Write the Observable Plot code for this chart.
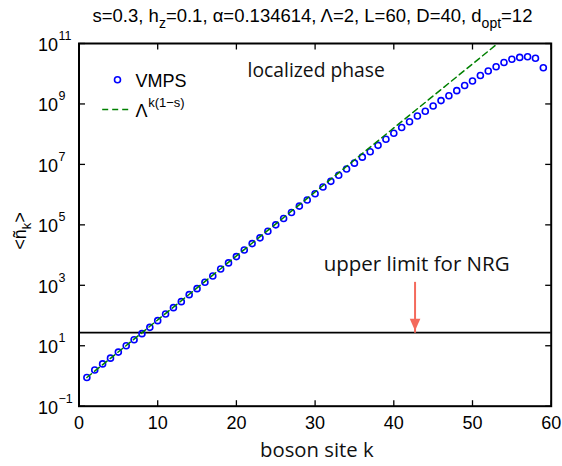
<!DOCTYPE html>
<html><head><meta charset="utf-8">
<script src="https://cdn.jsdelivr.net/npm/d3@7"></script>
<script src="https://cdn.jsdelivr.net/npm/@observablehq/plot@0.6"></script>
<style>body{margin:0;background:#fff} svg{display:block}</style>
</head><body><div id="chart"></div>
<script>
// boson site index k
const siteK = [1,2,3,4,5,6,7,8,9,10,11,12,13,14,15,16,17,18,19,20,21,22,23,24,25,26,27,28,29,30,
  31,32,33,34,35,36,37,38,39,40,41,42,43,44,45,46,47,48,49,50,51,52,53,54,55,56,57,58,59];
// VMPS <n_k> values
const vmpsN = [0.89,1.58,2.51,3.89,6.17,10.0,15.8,25.1,40.7,67.6,112,182,288,490,776,1260,2040,3470,5500,8910,
  14800,24000,37200,61700,1.0e5,1.62e5,2.57e5,4.17e5,6.61e5,1.07e6,1.78e6,2.75e6,4.37e6,7.08e6,1.10e7,1.74e7,
  2.63e7,4.27e7,6.76e7,1.07e8,1.66e8,2.57e8,3.98e8,5.75e8,8.51e8,1.29e9,1.86e9,2.75e9,4.07e9,5.75e9,8.71e9,
  1.23e10,1.70e10,2.34e10,3.02e10,3.47e10,3.63e10,3.24e10,1.58e10];
// dashed power law Lambda^{k(1-s)} endpoints (straight on log axis)
const fitK = [1, 53.2];
const fitN = [0.89, 1e11];
// NRG upper limit and its annotation
const nrgLimit = 27;
const arrowK = 42.7;
const arrowTop = 1300;
const noteK = 42.9;
const noteN = 3000;
// ticks
const xTicks = [0,10,20,30,40,50,60];
const yTickExp = [-1,1,3,5,7,9,11];

const vmps = siteK.map((k,i)=>({k, n: vmpsN[i]}));
const fit = fitK.map((k,i)=>({k, n: fitN[i]}));

const tick = (dx,dy)=>({draw(c){c.moveTo(0,0);c.lineTo(dx,dy);}});
const headDown = {draw(c){c.moveTo(0,0);c.lineTo(-5.3,-12);c.lineTo(5.3,-12);c.closePath();}};
const legendDash = {draw(c){c.moveTo(-15,0);c.lineTo(15,0);}};

const blue = "#0000ff", green = "#008000", red = "#f46a5c";
const sans = "Liberation Sans, Arial, Helvetica, sans-serif";
const human = "'Open Sans', sans-serif";

const chart = Plot.plot({
  width: 562, height: 466,
  marginLeft: 78.5, marginRight: 11.3, marginTop: 43, marginBottom: 60.3,
  style: {fontFamily: sans, fontSize: "18px", background: "#fff"},
  x: {domain: [0, 60], axis: null},
  y: {type: "log", domain: [0.1, 1e11], axis: null},
  marks: [
    Plot.ruleY([nrgLimit], {stroke: "black", strokeWidth: 1.8}),
    Plot.dot(vmps, {x: "k", y: "n", r: 3, stroke: blue, strokeWidth: 1.6, fill: "none"}),
    Plot.line(fit, {x: "k", y: "n", stroke: green, strokeWidth: 1.5, strokeDasharray: "6,4"}),
    Plot.link([arrowK], {x1: d=>d, x2: d=>d, y1: ()=>arrowTop, y2: ()=>nrgLimit, stroke: red, strokeWidth: 2}),
    Plot.dot([arrowK], {x: d=>d, y: ()=>nrgLimit, dy: -2, symbol: headDown, fill: red, stroke: "none"}),
    Plot.text(["upper limit for NRG"], {x: ()=>noteK, y: ()=>noteN, text: d=>d, textAnchor: "middle", lineAnchor: "bottom", fontFamily: human, fontSize: 20.5, fill: "#111"}),
    Plot.text(["localized phase"], {frameAnchor: "top-left", dx: 237.2, dy: 33, text: d=>d, textAnchor: "middle", lineAnchor: "bottom", fontFamily: human, fontSize: 19.3, fill: "#111"}),
    Plot.text(["boson site k"], {frameAnchor: "bottom", dx: 1.7, dy: 51, text: d=>d, textAnchor: "middle", lineAnchor: "bottom", fontFamily: human, fontSize: 20.3, fill: "#111"}),
    // legend
    Plot.dot(["VMPS"], {frameAnchor: "top-left", dx: 38.5, dy: 36.3, r: 3, stroke: blue, strokeWidth: 1.6, fill: "none"}),
    Plot.text(["VMPS"], {frameAnchor: "top-left", dx: 56.5, dy: 43, text: d=>d, textAnchor: "start", lineAnchor: "bottom", fontSize: 18}),
    Plot.dot(["fit"], {frameAnchor: "top-left", dx: 38.2, dy: 66, symbol: legendDash, stroke: green, strokeWidth: 1.5, strokeDasharray: "6,4", fill: "none"}),
    Plot.text(["Λ"], {frameAnchor: "top-left", dx: 56.5, dy: 73, text: d=>d, textAnchor: "start", lineAnchor: "bottom", fontSize: 18}),
    Plot.text(["k(1−s)"], {frameAnchor: "top-left", dx: 69.2, dy: 63, text: d=>d, textAnchor: "start", lineAnchor: "bottom", fontSize: 13}),
    // ticks (inward)
    Plot.dot(xTicks, {x: d=>d, frameAnchor: "bottom", symbol: tick(0,-6), stroke: "black", strokeWidth: 1.3, fill: "none"}),
    Plot.dot(xTicks, {x: d=>d, frameAnchor: "top", symbol: tick(0,6), stroke: "black", strokeWidth: 1.3, fill: "none"}),
    Plot.dot(yTickExp, {y: d=>10**d, frameAnchor: "left", symbol: tick(6,0), stroke: "black", strokeWidth: 1.3, fill: "none"}),
    Plot.dot(yTickExp, {y: d=>10**d, frameAnchor: "right", symbol: tick(-6,0), stroke: "black", strokeWidth: 1.3, fill: "none"}),
    // tick labels
    Plot.text(xTicks, {x: d=>d, frameAnchor: "bottom", dy: 22.6, text: d=>String(d), textAnchor: "middle", lineAnchor: "bottom", fontSize: 18}),
    Plot.text(yTickExp, {y: d=>10**d, frameAnchor: "left", dx: -21, dy: 7.5, text: ()=>"10", textAnchor: "end", lineAnchor: "bottom", fontSize: 18}),
    Plot.text(yTickExp, {y: d=>10**d, frameAnchor: "left", dx: -20.5, dy: -3.5, text: d=>d<0?"−"+(-d):String(d), textAnchor: "start", lineAnchor: "bottom", fontSize: 12.5}),
    Plot.frame({stroke: "black", strokeWidth: 2})
  ]
});
document.getElementById("chart").appendChild(chart);

const svg = d3.select(chart);
// title with subscripts
const t = svg.append("text").attr("x", 312.5).attr("y", 22).attr("text-anchor", "middle")
  .style("font-family", sans).style("font-size", "18.5px").attr("fill", "black");
t.append("tspan").text("s=0.3, h");
t.append("tspan").attr("dy", 6).style("font-size", "14px").text("z");
t.append("tspan").attr("dy", -6).text("=0.1, α=0.134614, Λ=2, L=60, D=40, d");
t.append("tspan").attr("dy", 6).style("font-size", "14px").text("opt");
t.append("tspan").attr("dy", -6).text("=12");
// y-axis label
const yl = svg.append("text").attr("transform", "translate(26,231) rotate(-90)").attr("text-anchor", "middle")
  .style("font-family", sans).style("font-size", "18px").attr("fill", "black");
yl.append("tspan").text("<ñ");
yl.append("tspan").attr("dy", 5).style("font-size", "13px").text("k");
yl.append("tspan").attr("dy", -5).text(">");
</script>
</body></html>
